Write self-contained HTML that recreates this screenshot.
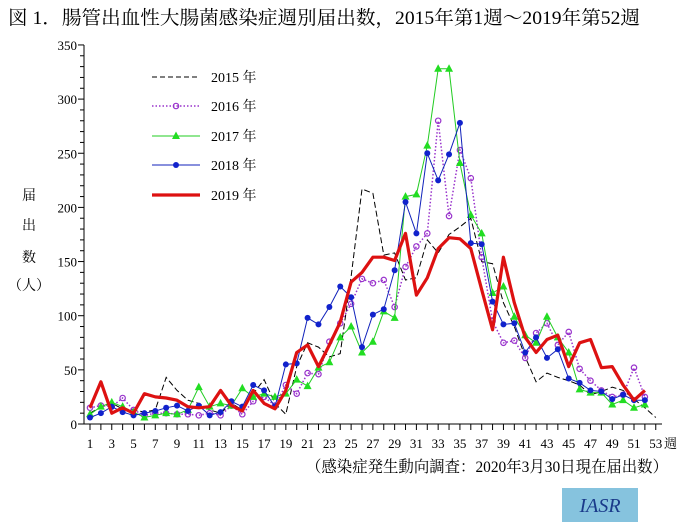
<!DOCTYPE html>
<html><head><meta charset="utf-8"><style>
body{margin:0;background:#fff;width:691px;height:525px;overflow:hidden}
svg text{font-family:"Liberation Serif","Noto Serif CJK SC",serif}
</style></head><body>
<svg id="s" width="691" height="525" xmlns="http://www.w3.org/2000/svg">
<text x="8" y="24" font-size="19" textLength="632" lengthAdjust="spacingAndGlyphs" font-family="Liberation Serif, Noto Serif CJK SC, serif">図 1．腸管出血性大腸菌感染症週別届出数，2015年第1週～2019年第52週</text>
<g font-size="14" text-anchor="middle"><text x="29" y="200">届</text><text x="29" y="230">出</text><text x="29" y="262">数</text><text x="29" y="290">（人）</text></g>
<text x="306" y="472" font-size="16" textLength="362" lengthAdjust="spacingAndGlyphs">（感染症発生動向調査：2020年3月30日現在届出数）</text>
<rect x="562" y="488" width="76" height="34" fill="#86c3de"/>
<text x="600" y="512" font-size="20" font-style="italic" fill="#1a3a8a" text-anchor="middle">IASR</text>
<g id="ax" stroke="#000" stroke-width="1" fill="none"></g>
<g id="lab" font-size="13"></g>
<g id="ser"></g>
<g id="leg" font-size="14"></g>
</svg>
<script>
const NS="http://www.w3.org/2000/svg";
function el(p,t,a,txt){const e=document.createElementNS(NS,t);for(const k in a)e.setAttribute(k,a[k]);if(txt!=null)e.textContent=txt;document.getElementById(p).appendChild(e);return e;}
const X=w=>90+(w-1)*10.88, Y=v=>424-v*1.083;
el('ax','line',{x1:84,y1:Y(350),x2:84,y2:424});
el('ax','line',{x1:84,y1:424,x2:662,y2:424});
for(let v=0;v<=350;v+=10){const y=Y(v);el('ax','line',{x1:v%50?80:78,y1:y,x2:84,y2:y});if(v%50==0)el('lab','text',{x:77,y:y+5,'text-anchor':'end'},v);}
for(let w=1;w<=53;w++){const x=X(w);el('ax','line',{x1:x,y1:424,x2:x,y2:430});if(w%2)el('lab','text',{x:x,y:448,'text-anchor':'middle'},w);}
el('lab','text',{x:664,y:448},'週');
const d15=[10,16,19,14,13,11,13,43,31,22,19,13,10,19,13,28,41,19,9,53,75,71,62,65,136,217,213,156,158,133,135,170,158,175,182,190,150,148,112,90,62,39,47,43,40,36,27,30,34,31,23,15,6];
const d16=[15,17,16,24,13,8,10,10,9,9,8,10,8,17,9,21,25,17,36,28,47,46,76,93,111,134,130,133,108,145,164,176,280,192,253,227,154,95,75,77,61,84,93,73,85,51,40,31,25,27,52,25];
const d17=[9,16,20,16,11,6,8,10,9,13,34,16,19,17,33,25,28,25,28,41,35,52,57,80,90,66,76,104,98,210,212,257,328,328,241,193,176,121,127,99,82,75,99,80,66,32,29,29,18,22,15,18];
const d18=[6,10,16,11,8,10,12,15,17,12,17,8,11,21,16,36,31,16,55,56,98,92,108,127,117,71,101,106,142,205,176,250,225,249,278,167,166,113,92,93,66,80,61,69,42,38,31,30,23,27,22,22];
const d19=[15,39,10,15,10,28,25,24,22,16,15,16,31,17,12,31,19,14,31,66,73,53,73,94,131,140,154,154,151,176,119,135,162,172,171,162,124,87,154,112,80,66,78,82,53,75,78,52,53,36,22,31];
const pts=d=>d.map((v,i)=>X(i+1).toFixed(1)+','+Y(v).toFixed(1)).join(' ');
el('ser','polyline',{points:pts(d15),fill:'none',stroke:'#000','stroke-width':1,'stroke-dasharray':'6,3'});
el('ser','polyline',{points:pts(d16),fill:'none',stroke:'#9933cc','stroke-width':1.5,'stroke-dasharray':'1.5,2'});
d16.forEach((v,i)=>el('ser','circle',{cx:X(i+1),cy:Y(v),r:2.7,fill:'none',stroke:'#9933cc','stroke-width':1.2}));
el('ser','polyline',{points:pts(d17),fill:'none',stroke:'#22cc22','stroke-width':1});
const tri=(x,y)=>`${x},${y-4.5} ${x-4},${y+3} ${x+4},${y+3}`;
d17.forEach((v,i)=>el('ser','polygon',{points:tri(X(i+1),Y(v)),fill:'#22dd22'}));
el('ser','polyline',{points:pts(d18),fill:'none',stroke:'#1122bb','stroke-width':1});
d18.forEach((v,i)=>el('ser','circle',{cx:X(i+1),cy:Y(v),r:3,fill:'#1122cc'}));
el('ser','polyline',{points:pts(d19),fill:'none',stroke:'#dd1111','stroke-width':3.2,'stroke-linejoin':'round'});
const ly=[77,106,136,165,195],names=['2015 年','2016 年','2017 年','2018 年','2019 年'];
el('leg','line',{x1:152,y1:ly[0],x2:200,y2:ly[0],stroke:'#000','stroke-dasharray':'5,3'});
el('leg','line',{x1:152,y1:ly[1],x2:200,y2:ly[1],stroke:'#9933cc','stroke-width':1.5,'stroke-dasharray':'1.5,2'});
el('leg','circle',{cx:176,cy:ly[1],r:2.7,fill:'none',stroke:'#9933cc','stroke-width':1.2});
el('leg','line',{x1:152,y1:ly[2],x2:200,y2:ly[2],stroke:'#22cc22'});
el('leg','polygon',{points:tri(176,ly[2]),fill:'#22dd22'});
el('leg','line',{x1:152,y1:ly[3],x2:200,y2:ly[3],stroke:'#1122bb'});
el('leg','circle',{cx:176,cy:ly[3],r:3,fill:'#1122cc'});
el('leg','line',{x1:152,y1:ly[4],x2:200,y2:ly[4],stroke:'#dd1111','stroke-width':3.2});
names.forEach((n,i)=>el('leg','text',{x:211,y:ly[i]+5},n));
</script>
</body></html>
